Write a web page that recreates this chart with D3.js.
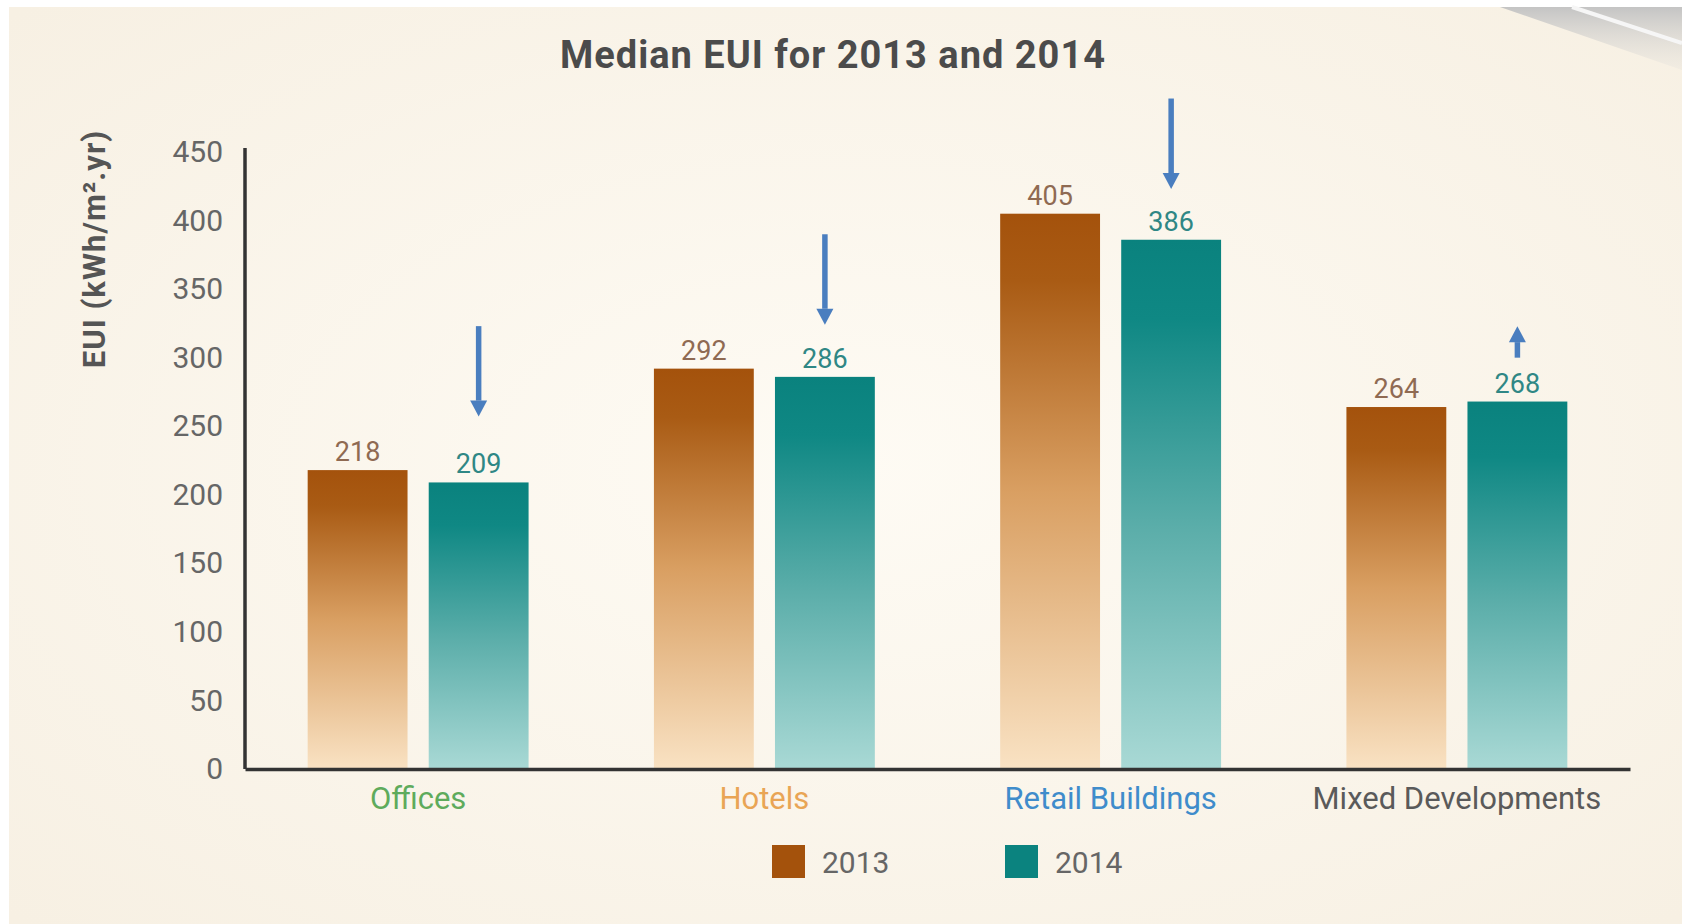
<!DOCTYPE html>
<html>
<head>
<meta charset="utf-8">
<script src="https://cdn.jsdelivr.net/npm/d3@7"></script>
<style>
  html, body { margin: 0; padding: 0; background: #fff; }
  svg { display: block; font-family: Roboto, "DejaVu Sans", sans-serif; }
</style>
</head>
<body>
<div id="chart"></div>
<script>
// data
const categories = ["Offices", "Hotels", "Retail Buildings", "Mixed Developments"];
const years = ["2013", "2014"];
const values2013 = [218, 292, 405, 264];
const values2014 = [209, 286, 386, 268];
const yTicks = [0, 50, 100, 150, 200, 250, 300, 350, 400, 450];
// hand-drawn blue arrows over the 2014 bars (start and tip in EUI units)
const arrowStart = [323, 390, 489, 300];
const arrowTip = [257, 324, 423, 323];

const width = 1682;
const height = 924;
const margin = { top: 152, right: 52, bottom: 155, left: 245 };
const innerW = width - margin.left - margin.right;
const innerH = height - margin.top - margin.bottom;

const catColors = ["#5eab5c", "#e9a555", "#3f8ccb", "#5a5a5a"];
const yearColors = { "2013": "#a4520c", "2014": "#0b837f" };
const labelColors = { "2013": "#8f6a52", "2014": "#2f8785" };

const svg = d3
  .select("#chart")
  .append("svg")
  .attr("width", width)
  .attr("height", height);

const defs = svg.append("defs");

const bg = defs.append("radialGradient").attr("id", "bg")
  .attr("cx", "50%").attr("cy", "50%").attr("r", "70%");
bg.append("stop").attr("offset", "0%").attr("stop-color", "#fefbf4");
bg.append("stop").attr("offset", "100%").attr("stop-color", "#f7f0e3");

const corner = defs.append("linearGradient").attr("id", "corner")
  .attr("x1", 0).attr("y1", 0).attr("x2", 0).attr("y2", 1);
corner.append("stop").attr("offset", "0%").attr("stop-color", "#c4c4c4");
corner.append("stop").attr("offset", "100%").attr("stop-color", "#e6e3dd").attr("stop-opacity", 0.3);

const grad2013 = defs.append("linearGradient").attr("id", "g2013")
  .attr("x1", 0).attr("y1", 0).attr("x2", 0).attr("y2", 1);
grad2013.append("stop").attr("offset", "0%").attr("stop-color", "#a4520c");
grad2013.append("stop").attr("offset", "12%").attr("stop-color", "#a95b14");
grad2013.append("stop").attr("offset", "50%").attr("stop-color", "#d99f62");
grad2013.append("stop").attr("offset", "100%").attr("stop-color", "#f9e2c3");

const grad2014 = defs.append("linearGradient").attr("id", "g2014")
  .attr("x1", 0).attr("y1", 0).attr("x2", 0).attr("y2", 1);
grad2014.append("stop").attr("offset", "0%").attr("stop-color", "#0a827e");
grad2014.append("stop").attr("offset", "15%").attr("stop-color", "#0f8884");
grad2014.append("stop").attr("offset", "55%").attr("stop-color", "#5caeaa");
grad2014.append("stop").attr("offset", "100%").attr("stop-color", "#a9d9d5");

// page background with white edge and the grey corner at top right
svg.append("rect").attr("x", 9).attr("y", 7)
  .attr("width", width - 9).attr("height", height - 7)
  .attr("fill", "url(#bg)");
svg.append("path")
  .attr("d", "M1500,7 L1682,7 L1682,70 Z")
  .attr("fill", "url(#corner)");
svg.append("path")
  .attr("d", "M1572,7 L1682,43")
  .attr("stroke", "#f6f6f6").attr("stroke-width", 4);

const g = svg.append("g")
  .attr("transform", `translate(${margin.left},${margin.top})`);

const x0 = d3.scaleBand()
  .domain(categories)
  .range([0, innerW])
  .paddingInner(0.362)
  .paddingOuter(0.181);

const x1 = d3.scaleBand()
  .domain(years)
  .range([0, x0.bandwidth()])
  .paddingInner(0.175);

const y = d3.scaleLinear().domain([0, 450]).range([innerH, 0]);

const rows = categories.map((c, i) => ({
  category: c,
  values: [
    { year: "2013", value: values2013[i] },
    { year: "2014", value: values2014[i] },
  ],
}));

const groups = g.selectAll(".group")
  .data(rows)
  .join("g")
  .attr("class", "group")
  .attr("transform", (d) => `translate(${x0(d.category)},0)`);

groups.selectAll("rect")
  .data((d) => d.values)
  .join("rect")
  .attr("x", (d) => x1(d.year))
  .attr("y", (d) => y(d.value))
  .attr("width", x1.bandwidth())
  .attr("height", (d) => innerH - y(d.value))
  .attr("fill", (d) => `url(#g${d.year})`);

groups.selectAll("text")
  .data((d) => d.values)
  .join("text")
  .attr("x", (d) => x1(d.year) + x1.bandwidth() / 2)
  .attr("y", (d) => y(d.value) - 9)
  .attr("text-anchor", "middle")
  .attr("font-size", 27)
  .attr("fill", (d) => labelColors[d.year])
  .text((d) => d.value);

// axes
const yAxis = g.append("g")
  .call(d3.axisLeft(y).tickValues(yTicks).tickSize(0).tickPadding(22));
yAxis.select(".domain").attr("stroke", "#333").attr("stroke-width", 3.5)
  .attr("d", `M0,${innerH}V-4`);
yAxis.selectAll("text").attr("font-size", 30).attr("fill", "#666")
  .attr("font-family", "Roboto, sans-serif");

const xAxis = g.append("g")
  .attr("transform", `translate(0,${innerH})`)
  .call(d3.axisBottom(x0).tickSize(0).tickPadding(18));
xAxis.select(".domain").attr("stroke", "#333").attr("stroke-width", 3.5);
xAxis.selectAll("text")
  .attr("font-size", 31)
  .attr("font-family", "Roboto, sans-serif")
  .attr("fill", (d, i) => catColors[i]);

// arrows
const arrowG = g.append("g");
categories.forEach((c, i) => {
  const ax = x0(c) + x1("2014") + x1.bandwidth() / 2;
  const ys = y(arrowStart[i]);
  const yt = y(arrowTip[i]);
  const dir = yt > ys ? 1 : -1;
  const head = 16;
  arrowG.append("line")
    .attr("x1", ax).attr("x2", ax)
    .attr("y1", ys).attr("y2", yt - dir * head)
    .attr("stroke", "#4a7ebf").attr("stroke-width", 5.5);
  arrowG.append("path")
    .attr("d", `M${ax - 8.5},${yt - dir * head} L${ax + 8.5},${yt - dir * head} L${ax},${yt} Z`)
    .attr("fill", "#4a7ebf");
});

// title
svg.append("text")
  .attr("x", 833)
  .attr("y", 68)
  .attr("text-anchor", "middle")
  .attr("font-size", 38)
  .attr("font-weight", "bold")
  .attr("letter-spacing", 1)
  .attr("fill", "#4b4b4b")
  .text("Median EUI for 2013 and 2014");

// y axis title
svg.append("text")
  .attr("transform", "translate(105,249) rotate(-90)")
  .attr("text-anchor", "middle")
  .attr("font-size", 31)
  .attr("font-weight", "bold")
  .attr("letter-spacing", 1)
  .attr("fill", "#555")
  .text("EUI (kWh/m².yr)");

// legend
const legend = svg.append("g").attr("transform", "translate(772,845)");
const legendX = [0, 233];
years.forEach((yr, i) => {
  const lg = legend.append("g").attr("transform", `translate(${legendX[i]},0)`);
  lg.append("rect").attr("width", 33).attr("height", 33).attr("fill", yearColors[yr]);
  lg.append("text")
    .attr("x", 50).attr("y", 17).attr("dy", "0.36em")
    .attr("font-size", 30).attr("fill", "#666")
    .text(yr);
});
</script>
</body>
</html>
